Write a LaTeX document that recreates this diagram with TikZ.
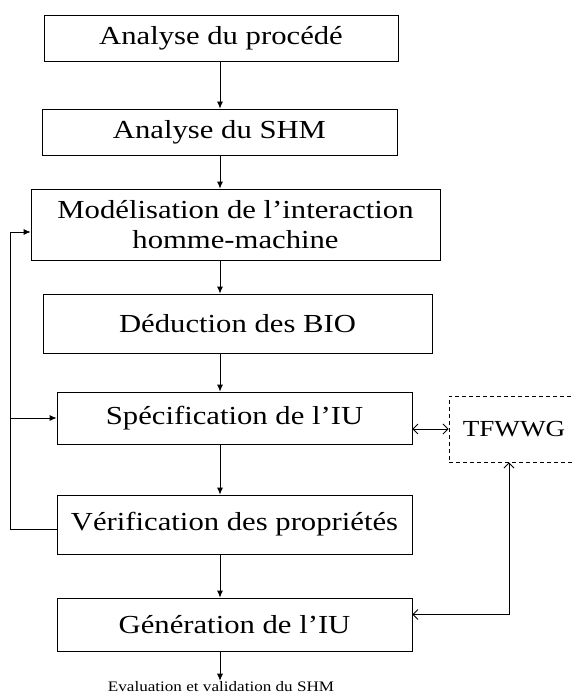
\documentclass[tikz,border=0pt]{standalone}
\usepackage{fontspec}
\setmainfont{Liberation Serif}[FakeStretch=1.18]
\usetikzlibrary{arrows.meta, positioning}

\begin{document}
\begin{tikzpicture}[x=1pt, y=-1pt,
        every node/.style={font=\fontsize{26}{30}\selectfont, align=center, inner sep=0pt},
        stepbox/.style={draw, line width=0.8pt},
        toolbox/.style={draw, dashed, line width=0.9pt, dash pattern=on 4pt off 3pt},
        flow/.style={-{Latex[length=7pt, width=6pt]}, line width=0.8pt},
        link/.style={{Straight Barb[length=5pt, width=10pt]}-{Straight Barb[length=5pt, width=10pt]}, line width=0.8pt},
        loop/.style={-{Latex[length=7pt, width=6pt]}, line width=0.8pt}
    ]
    \useasboundingbox (0,0) rectangle (572,695);
    \coordinate (spine) at (220,0);

    % main chain
    \node[stepbox, minimum width=354pt, minimum height=46pt] (proc) at (221,38) {Analyse du procédé};
    \node[stepbox, minimum width=355pt, minimum height=46pt] (shm) at (219.5,132) {Analyse du SHM};
    \node[stepbox, minimum width=409pt, minimum height=71pt] (model) at (235.5,224.5) {Modélisation de l’interaction\\homme-machine};
    \node[stepbox, minimum width=389pt, minimum height=59pt] (bio) at (237.5,323.5) {Déduction des BIO};
    \node[stepbox, minimum width=355pt, minimum height=52pt] (spec) at (234.5,418) {Spécification de l’IU};
    \node[stepbox, minimum width=355pt, minimum height=59pt] (verif) at (234.5,524.5) {Vérification des propriétés};
    \node[stepbox, minimum width=355pt, minimum height=53pt] (gen) at (234.5,624.5) {Génération de l’IU};
    \node[font=\fontsize{14.5}{17}\selectfont, inner sep=1pt] (eval) at (221,687) {Evaluation et validation du SHM};

    % tool
    \node[toolbox, minimum width=126pt, minimum height=66pt] (tfwwg) at (512,429) {};
    \node[font=\fontsize{23}{26}\selectfont] (tfwwgtxt) at (514,429) {TFWWG};

    \draw[flow] (proc.south -| spine) -- (shm.north -| spine);
    \draw[flow] (shm.south -| spine) -- (model.north -| spine);
    \draw[flow] (model.south -| spine) -- (bio.north -| spine);
    \draw[flow] (bio.south -| spine) -- (spec.north -| spine);
    \draw[flow] (spec.south -| spine) -- (verif.north -| spine);
    \draw[flow] (verif.south -| spine) -- (gen.north -| spine);
    \draw[flow] (gen.south -| spine) -- (eval.north -| spine);

    % feedback
    \draw[loop] ([yshift=-4.5pt]verif.west) -- ++(-46,0) coordinate (back) |- ([yshift=-7.5pt]model.west);
    \draw[loop] (back |- spec.west) -- (spec.west);

    \draw[link] (spec.east |- tfwwg.west) -- (tfwwg.west);
    \draw[link] ([yshift=10pt]gen.east) -| ([xshift=-3pt]tfwwg.south);

\end{tikzpicture}
\end{document}
